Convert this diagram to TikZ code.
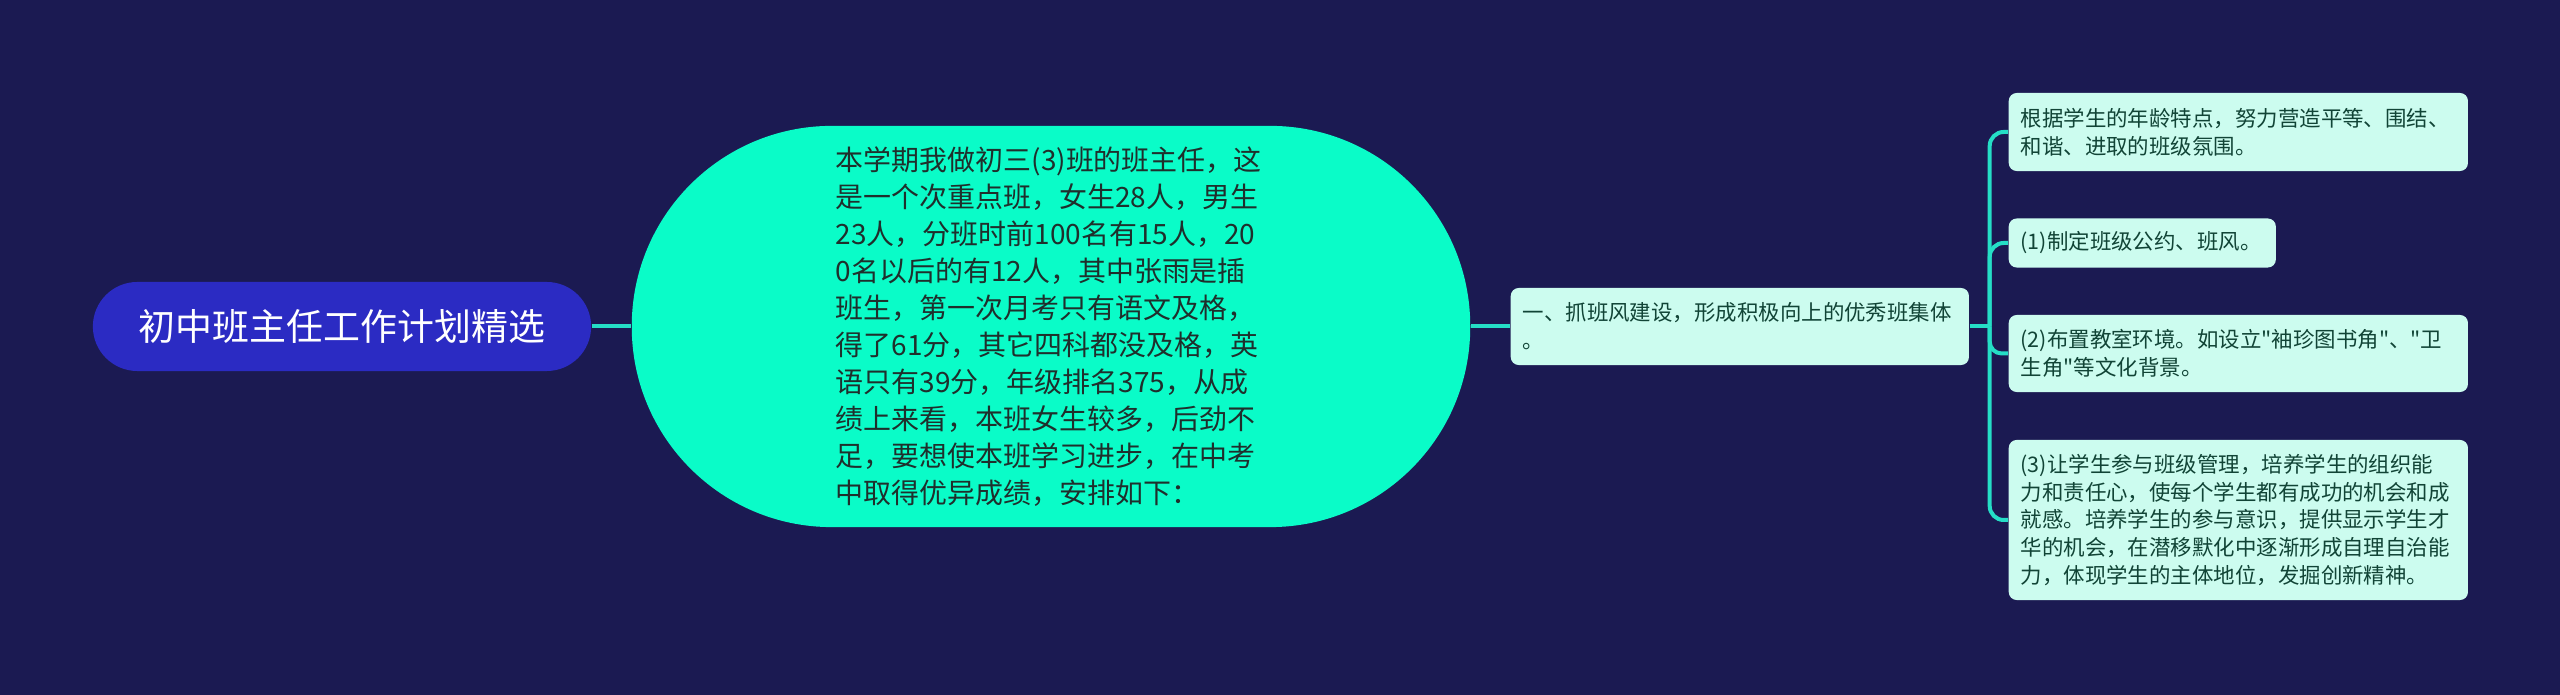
\documentclass[tikz,border=0pt]{standalone}
\usepackage{fontspec}
\newfontfamily\cjk{Noto Sans CJK SC}
\usepackage{xcolor}
\usepackage{tikz}
\definecolor{canvas}{HTML}{1B1A52}
\definecolor{rootblue}{HTML}{2B2BC3}
\definecolor{aqua}{HTML}{0AFCC8}
\definecolor{mint}{HTML}{CCFCEF}
\definecolor{wire}{HTML}{25DEC6}
\definecolor{ink}{HTML}{1F2F2C}
\definecolor{leafink}{HTML}{114436}

\begin{document}
\begin{tikzpicture}[x=0.01cm, y=-0.01cm,
    title/.style={fill=rootblue, rounded corners=0.445cm, minimum width=4.98cm, minimum height=0.89cm, inner sep=0pt, text=white, font=\cjk\fontsize{10.5}{12}\selectfont},
    story/.style={fill=aqua, rounded corners=2cm, minimum width=8.38cm, minimum height=4.01cm, text width=4.3cm, align=left, inner sep=0pt, text=ink, font=\cjk\fontsize{7.95}{10.5}\selectfont},
    tip/.style={fill=mint, rounded corners=0.08cm, anchor=west, align=left, inner xsep=0.12cm, inner ysep=0.03cm, text=leafink, font=\cjk\fontsize{6.1}{7.9}\selectfont},
    link/.style={wire, line width=1.14pt}
]
\fill[canvas] (0,0) rectangle (2560,695);
\useasboundingbox (0,0) rectangle (2560,695);
\node[title] (root) at (342,326.5) {初中班主任工作计划精选};
\node[story] (story) at (1051,326.5) {本学期我做初三(3)班的班主任，这\\是一个次重点班，女生28人，男生\\23人，分班时前100名有15人，20\\0名以后的有12人，其中张雨是插\\班生，第一次月考只有语文及格，\\得了61分，其它四科都没及格，英\\语只有39分，年级排名375，从成\\绩上来看，本班女生较多，后劲不\\足，要想使本班学习进步，在中考\\中取得优异成绩，安排如下：};
\node[tip, text width=4.34cm, minimum height=0.77cm] (task) at (1510,326.5) {一、抓班风建设，形成积极向上的优秀班集体\\。};
\node[tip, text width=4.35cm, minimum height=0.78cm] (p1) at (2008,132) {根据学生的年龄特点，努力营造平等、围结、\\和谐、进取的班级氛围。};
\node[tip, text width=2.43cm, minimum height=0.49cm] (p2) at (2008,243) {(1)制定班级公约、班风。};
\node[tip, text width=4.35cm, minimum height=0.77cm] (p3) at (2008,353.5) {(2)布置教室环境。如设立"袖珍图书角"、"卫\\生角"等文化背景。};
\node[tip, text width=4.35cm, minimum height=1.60cm] (p4) at (2008,520) {(3)让学生参与班级管理，培养学生的组织能\\力和责任心，使每个学生都有成功的机会和成\\就感。培养学生的参与意识，提供显示学生才\\华的机会，在潜移默化中逐渐形成自理自治能\\力，体现学生的主体地位，发掘创新精神。};
\draw[link] (root.east) -- (story.west);
\draw[link] (story.east) -- (task.west);
\draw[link] (task.east) -- ++(20,0) coordinate (bus);
\draw[link, rounded corners=0.14cm] (bus) |- (p1.west);
\draw[link, rounded corners=0.14cm] (bus) |- (p2.west);
\draw[link, rounded corners=0.12cm] (bus) |- (p3.west);
\draw[link, rounded corners=0.14cm] (bus) |- (p4.west);
\end{tikzpicture}
\end{document}
